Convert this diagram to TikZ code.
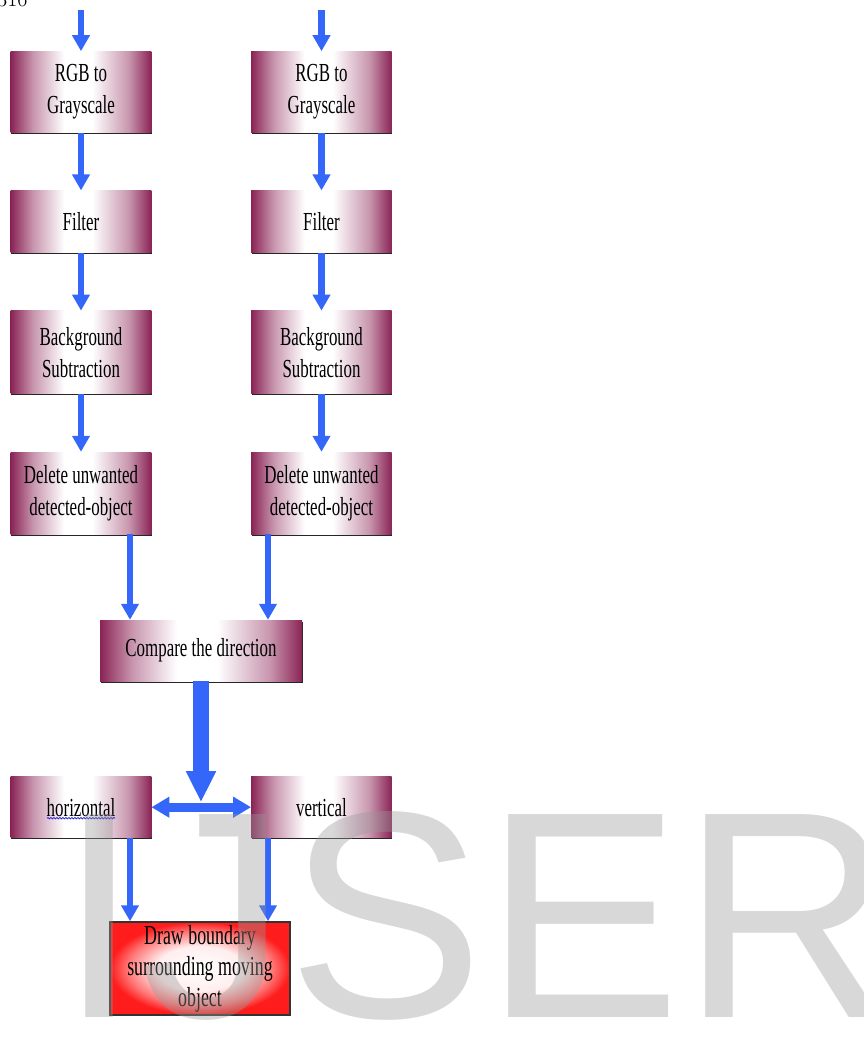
\documentclass[tikz,border=0pt]{standalone}
\usepackage{fontspec}
\usepackage{xcolor}
\usepackage{tikz}
\usetikzlibrary{arrows.meta,shadows,decorations.pathmorphing}

\newfontfamily\boxfont[FakeStretch=0.65]{Liberation Serif}
\newfontfamily\markfont{Liberation Sans}

\definecolor{plumedge}{RGB}{138,36,86}
\definecolor{plumsoft}{RGB}{200,150,174}
\definecolor{flowblue}{RGB}{52,102,250}
\definecolor{alarmred}{RGB}{255,28,28}
\definecolor{alarmsoft}{RGB}{255,120,120}
\definecolor{alarmpink}{RGB}{255,238,238}
\definecolor{wavyblue}{RGB}{40,40,220}

\pgfdeclarehorizontalshading{plumfade}{100bp}{color(0bp)=(plumedge); color(25bp)=(plumedge); color(33bp)=(plumsoft); color(44bp)=(white); color(54bp)=(white); color(67bp)=(plumsoft); color(75bp)=(plumedge); color(100bp)=(plumedge)}
\pgfdeclareradialshading{redglow}{\pgfpoint{0bp}{0bp}}{color(0bp)=(white); color(12bp)=(alarmpink); color(20bp)=(alarmsoft); color(25bp)=(alarmred); color(50bp)=(alarmred)}

\tikzset{
  box/.style={shading=plumfade, minimum width=140.5pt, inner sep=2pt, align=center,
    font=\boxfont\fontsize{26}{32}\selectfont,
    drop shadow={shadow xshift=0.6pt, shadow yshift=-1.6pt, fill=black!85, opacity=1}},
  alarm/.style={shading=redglow, draw=black!80, line width=1.5pt, inner sep=2pt, align=center,
    font=\boxfont\fontsize{27.5}{31}\selectfont},
  flow/.style={draw=flowblue, line width=6.5pt, -{Triangle[length=16pt,width=17pt]}},
  bigflow/.style={draw=flowblue, line width=15.5pt, -{Triangle[length=31pt,width=28pt]}},
  twoway/.style={draw=flowblue, line width=9pt, {Triangle[length=18pt,width=20pt]}-{Triangle[length=18pt,width=20pt]}}
}

\begin{document}
\begin{tikzpicture}[x=1pt, y=-1pt]
	\useasboundingbox (0,0) rectangle (864,1045);
	\matrix (grid) [row sep=58pt, column sep=100pt, inner sep=0pt, anchor=north] at (201.25,51) {
		\node[box, minimum height=81pt] (rgbL) {RGB to\\Grayscale}; & \node[box, minimum height=81pt] (rgbR) {RGB to\\Grayscale}; \\
		\node[box, minimum height=62pt] (filtL) {Filter}; & \node[box, minimum height=62pt] (filtR) {Filter}; \\
		\node[box, minimum height=83pt] (bgL) {Background\\Subtraction}; & \node[box, minimum height=83pt] (bgR) {Background\\Subtraction}; \\
		\node[box, minimum height=82pt] (delL) {Delete unwanted\\detected-object}; & \node[box, minimum height=82pt] (delR) {Delete unwanted\\detected-object}; \\[184.5pt]
		\node[box, minimum height=61pt] (horz) {horizontal}; & \node[box, minimum height=61pt] (vert) {vertical}; \\
	};
	\node[box, minimum width=202pt, minimum height=61pt] (cmp) at (201,650.5) {Compare the direction};
	\node[alarm, minimum width=180pt, minimum height=93pt] (drw) at (200,968.5) {Draw boundary\\surrounding moving\\object};
	% spell-check mark under the word
	\draw[wavyblue, line width=0.8pt, decorate, decoration={snake, amplitude=0.7pt, segment length=3pt}]
		([xshift=-34pt, yshift=-11pt]horz.center) -- ([xshift=34pt, yshift=-11pt]horz.center);

	\coordinate (inL) at ([yshift=41pt]rgbL.north);
	\coordinate (inR) at ([yshift=41pt]rgbR.north);
	\coordinate (split) at ([yshift=-121pt]cmp.south);

	\draw[flow] (inL) -- (rgbL.north);
	\draw[flow] (inR) -- (rgbR.north);
	\draw[flow] (rgbL) -- (filtL);
	\draw[flow] (rgbR) -- (filtR);
	\draw[flow] (filtL) -- (bgL);
	\draw[flow] (filtR) -- (bgR);
	\draw[flow] (bgL) -- (delL);
	\draw[flow] (bgR) -- (delR);
	\draw[flow] ([xshift=49pt]delL.south) -- ([xshift=49pt]delL.south |- cmp.north);
	\draw[flow] ([xshift=-53.5pt]delR.south) -- ([xshift=-53.5pt]delR.south |- cmp.north);
	\draw[bigflow] (cmp.south) -- (split);
	\draw[twoway] (horz.east) -- (vert.west);
	\draw[flow] ([xshift=49pt]horz.south) -- ([xshift=49pt]horz.south |- drw.north);
	\draw[flow] ([xshift=-53.5pt]vert.south) -- ([xshift=-53.5pt]vert.south |- drw.north);

	% page number and watermark
	\node[anchor=base west, inner sep=0pt, font=\fontsize{22}{22}\selectfont] (pgno) at (-3,6) {316};
	\node[anchor=base west, inner sep=0pt, text=black!40, text opacity=0.38,
		font=\markfont\fontsize{295}{295}\selectfont] (mark) at (58,1017) {IJSER};
\end{tikzpicture}
\end{document}
